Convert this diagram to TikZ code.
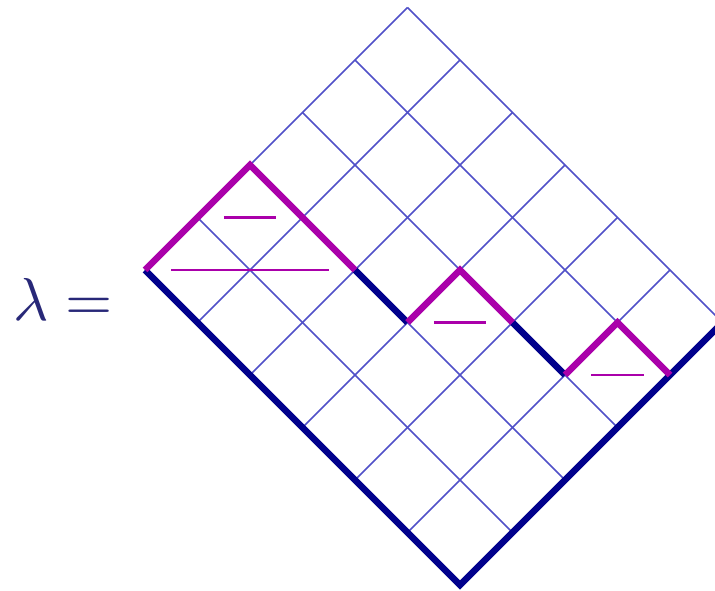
\documentclass[tikz,border=0pt]{standalone}
\usepackage{amsmath}
\usepackage{tikz}
\usetikzlibrary{calc,positioning}

\definecolor{gridblue}{RGB}{80,80,200}
\definecolor{rimnavy}{RGB}{0,0,140}
\definecolor{peakmag}{RGB}{170,0,170}
\definecolor{labelnavy}{RGB}{40,40,120}

\tikzset{
  cellline/.style={draw=gridblue,line width=0.85pt},
  rimline/.style={draw=rimnavy,line width=3.7pt,line join=miter},
  peakline/.style={draw=peakmag,line width=3.7pt,line join=miter},
  hookline/.style={draw=peakmag,line width=1.2pt}
}

\begin{document}
\begin{tikzpicture}
\useasboundingbox (0,0) rectangle (14.3,11.8);
\clip (0,0) rectangle (14.3,11.8);

% Label on the left
\node[anchor=base west,inner sep=0pt,text=labelnavy,scale=3.45] (lam) at (0.24,5.4) {$\lambda =$};

% Rotated frame: x runs up-left, y runs up-right
\begin{scope}[shift={(9.2,0.1)},x={(-1.05cm,1.05cm)},y={(1.05cm,1.05cm)}]
% The 6x5 grid of cells
\foreach \u in {0,...,6}
  \draw[cellline] (\u,0) -- (\u,5);
\foreach \v in {0,...,5}
  \draw[cellline] (0,\v) -- (6,\v);

% Corners of the profile
\coordinate (L) at (6,0);
\coordinate (O) at (0,0);
\coordinate (R) at (0,5);
\coordinate (P1) at (6,2);
\coordinate (V1) at (4,2);
\coordinate (W1) at (3,2);
\coordinate (P2) at (3,3);
\coordinate (V2) at (2,3);
\coordinate (W2) at (1,3);
\coordinate (P3) at (1,4);
\coordinate (V3) at (0,4);

% Outer rim and the plain steps of the profile
\draw[rimline] (L) -- (O) -- (R);
\draw[rimline] (V1) -- (W1);
\draw[rimline] (V2) -- (W2);

% Peaks of the profile
\draw[peakline] (L) -- (P1) -- (V1);
\draw[peakline] (W1) -- (P2) -- (V2);
\draw[peakline] (W2) -- (P3) -- (V3);

% Levels under each peak
\draw[hookline] (5.75,1.25) -- (5.25,1.75);
\draw[hookline] (5.75,0.25) -- (4.25,1.75);
\draw[hookline] (2.75,2.25) -- (2.25,2.75);
\draw[hookline] (0.75,3.25) -- (0.25,3.75);
\end{scope}
\end{tikzpicture}
\end{document}
